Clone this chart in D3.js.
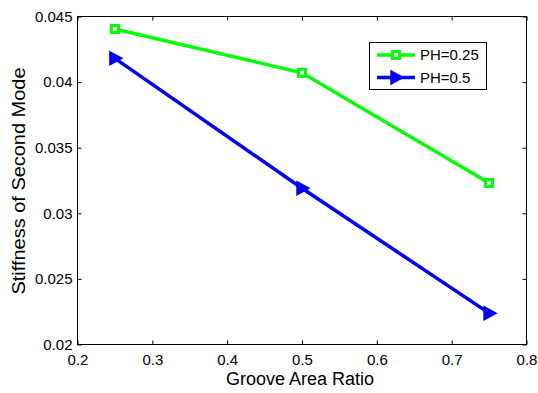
<!DOCTYPE html>
<html><head><meta charset="utf-8">
<script src="https://cdn.jsdelivr.net/npm/d3@7"></script>
<style>body{margin:0;background:#fff}text{font-family:"Liberation Sans",Arial,sans-serif;fill:#000}</style>
</head><body><svg id="c" width="538" height="393"></svg>
<script>
const xValues = [0.25, 0.5, 0.75];
const seriesNames = ["PH=0.25", "PH=0.5"];
const ph025 = [0.04405, 0.04071, 0.03231];
const ph05 = [0.04181, 0.03191, 0.02239];
const xTicks = [0.2, 0.3, 0.4, 0.5, 0.6, 0.7, 0.8];
const yTicks = [0.02, 0.025, 0.03, 0.035, 0.04, 0.045];
const xLabel = "Groove Area Ratio";
const yLabel = "Stiffness of Second Mode";

const svg = d3.select("#c");
const L = 77.5, R = 526.5, T = 16.5, B = 344.5;
const x = d3.scaleLinear().domain([0.2, 0.8]).range([L, R]);
const y = d3.scaleLinear().domain([0.02, 0.045]).range([B, T]);

const tl = 4;
svg.append("g").attr("transform", `translate(0,${B})`)
  .call(d3.axisBottom(x).tickValues(xTicks).tickSize(-tl).tickPadding(10).tickFormat(d => String(d)))
  .call(g => g.select(".domain").remove())
  .call(g => g.selectAll("text").attr("font-size", 15).attr("dy", "0.71em"));
svg.append("g").attr("transform", `translate(0,${T})`)
  .call(d3.axisTop(x).tickValues(xTicks).tickSize(-tl).tickFormat(""))
  .call(g => g.select(".domain").remove());
svg.append("g").attr("transform", `translate(${L},0)`)
  .call(d3.axisLeft(y).tickValues(yTicks).tickSize(-tl).tickPadding(5).tickFormat(d => String(+d.toFixed(3))))
  .call(g => g.select(".domain").remove())
  .call(g => g.selectAll("text").attr("font-size", 15));
svg.append("g").attr("transform", `translate(${R},0)`)
  .call(d3.axisRight(y).tickValues(yTicks).tickSize(-tl).tickFormat(""))
  .call(g => g.select(".domain").remove());
svg.selectAll(".tick line").attr("stroke", "#000");
svg.append("rect").attr("x", L).attr("y", T).attr("width", R - L).attr("height", B - T)
  .attr("fill", "none").attr("stroke", "#000").attr("stroke-width", 1);

svg.append("text").attr("x", 300).attr("y", 385).attr("text-anchor", "middle")
  .attr("font-size", 18).text(xLabel);
svg.append("text").attr("transform", `translate(25,${181}) rotate(-90)`)
  .attr("text-anchor", "middle").attr("font-size", 18)
  .attr("textLength", 227).attr("lengthAdjust", "spacingAndGlyphs").text(yLabel);

const line = d3.line().x((d, i) => x(xValues[i])).y(d => y(d));
const colors = ["#00ff00", "#0000ff"];
const data = [ph025, ph05];

const sq = (g, cx, cy, c) => g.append("rect").attr("x", cx - 3.5).attr("y", cy - 3.5).attr("width", 7).attr("height", 7)
  .attr("fill", "#fff").attr("stroke", c).attr("stroke-width", 3);
const tri = (g, cx, cy, c) => g.append("path")
  .attr("d", `M${cx - 5},${cy - 6.5}L${cx + 7},${cy}L${cx - 5},${cy + 6.5}Z`)
  .attr("fill", c).attr("stroke", c).attr("stroke-width", 1.5).attr("stroke-linejoin", "miter");
const markers = [sq, tri];

data.forEach((s, k) => {
  svg.append("path").datum(s).attr("d", line).attr("fill", "none")
    .attr("stroke", colors[k]).attr("stroke-width", 3.5);
  const g = svg.append("g");
  s.forEach((v, i) => markers[k](g, x(xValues[i]), y(v), colors[k]));
});

// legend
const lg = svg.append("g");
lg.append("rect").attr("x", 369.5).attr("y", 42.5).attr("width", 117).attr("height", 47)
  .attr("fill", "#fff").attr("stroke", "#000").attr("stroke-width", 1);
seriesNames.forEach((n, k) => {
  const yy = 55 + k * 22.5;
  lg.append("line").attr("x1", 377).attr("x2", 415).attr("y1", yy).attr("y2", yy)
    .attr("stroke", colors[k]).attr("stroke-width", 3.5);
  markers[k](lg, 396, yy, colors[k]);
  lg.append("text").attr("x", 420).attr("y", yy).attr("dy", "0.36em").attr("font-size", 15).text(n);
});
</script></body></html>
